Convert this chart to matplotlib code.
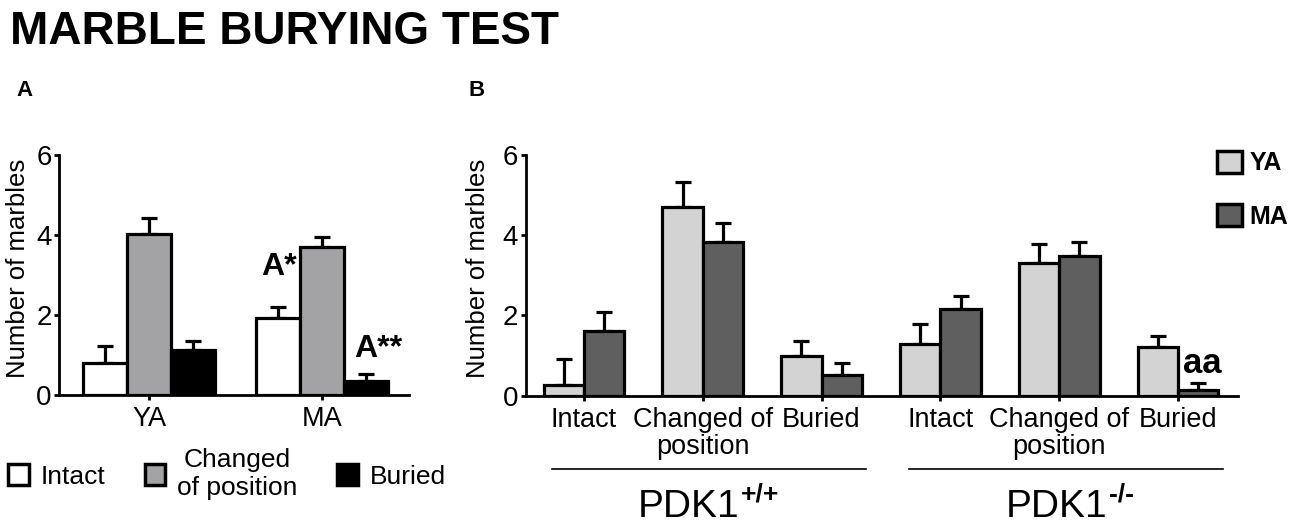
import matplotlib
matplotlib.use('Agg')
import matplotlib.pyplot as plt
import numpy as np
from matplotlib.patches import Patch
from matplotlib.transforms import blended_transform_factory

plt.rcParams['font.family'] = ['Liberation Sans', 'DejaVu Sans']
plt.rcParams['mathtext.default'] = 'regular'

# ---------------- data ----------------
# Panel A
groups_a = ['YA', 'MA']
legend_a = ['Intact', 'Changed\nof position', 'Buried']
intact_a = [0.81, 1.92]
intact_a_err = [0.41, 0.29]
changed_a = [4.03, 3.71]
changed_a_err = [0.39, 0.25]
buried_a = [1.12, 0.36]
buried_a_err = [0.23, 0.16]

# Panel B
categories_b = ['Intact', 'Changed of\nposition', 'Buried',
                'Intact', 'Changed of\nposition', 'Buried']
genotypes_b = ['+/+', '-/-']
series_b = ['YA', 'MA']
ya_b = [0.27, 4.70, 0.99, 1.28, 3.30, 1.21]
ya_b_err = [0.65, 0.62, 0.37, 0.50, 0.48, 0.29]
ma_b = [1.61, 3.84, 0.52, 2.15, 3.48, 0.14]
ma_b_err = [0.47, 0.46, 0.29, 0.34, 0.34, 0.17]

yticks = [0, 2, 4, 6]

# ---------------- style ----------------
W, H = 1300, 524
LW = 2.3
col_a = ['white', '#a3a3a5', 'black']
col_b = ['#d3d3d3', '#5f5f5f']

fig = plt.figure(figsize=(W / 100, H / 100), dpi=100)


def style_axes(ax):
    for s in ['top', 'right']:
        ax.spines[s].set_visible(False)
    for s in ['left', 'bottom']:
        ax.spines[s].set_linewidth(2.0)
    ax.tick_params(direction='out', length=3.8, width=2.0)
    ax.tick_params(axis='y', labelsize=20, pad=1.5)
    ax.tick_params(axis='x', labelsize=19.5, pad=4)
    ax.set_ylim(0, 6)
    ax.set_yticks(yticks)
    ax.set_ylabel('Number of marbles', fontsize=18.5)


# ---------------- Panel A ----------------
axA = fig.add_axes([59 / W, (H - 395) / H, 350 / W, 240 / H])
xa = np.arange(len(groups_a))
wa = 0.254
vals_a = [intact_a, changed_a, buried_a]
errs_a = [intact_a_err, changed_a_err, buried_a_err]
for i, (v, e) in enumerate(zip(vals_a, errs_a)):
    pos = xa + (i - 1) * wa
    axA.errorbar(pos, v, yerr=[np.zeros(len(v)), e], fmt='none', ecolor='black',
                 elinewidth=LW, capsize=6, capthick=LW, zorder=1)
    axA.bar(pos, v, wa, color=col_a[i], edgecolor='black', linewidth=LW, zorder=2)
axA.set_xlim(-0.52, 1.50)
axA.set_xticks(xa)
axA.set_xticklabels(groups_a)
style_axes(axA)
axA.yaxis.set_label_coords(-0.083, 0.527)

axA.text(0.751, 3.0, 'A*', ha='center', va='baseline', fontsize=23, fontweight='bold')
axA.text(1.32, 0.95, 'A**', ha='center', va='baseline', fontsize=23, fontweight='bold')

legA = fig.legend(handles=[Patch(facecolor=c, edgecolor='black', linewidth=2.5, label=l)
                           for c, l in zip(col_a, legend_a)],
                  loc='center left', bbox_to_anchor=(8 / W, 1 - 474 / H),
                  ncol=3, columnspacing=1.5, handlelength=0.78, handleheight=0.88,
                  handletextpad=0.45, fontsize=19, frameon=False,
                  borderpad=0, borderaxespad=0)
for t in legA.get_texts():
    t.set_multialignment('center')

# ---------------- Panel B ----------------
axB = fig.add_axes([525.7 / W, (H - 395.7) / H, 712.3 / W, 240.7 / H])
xb = np.arange(len(categories_b))
wb = 0.34
for i, (v, e) in enumerate([(ya_b, ya_b_err), (ma_b, ma_b_err)]):
    pos = xb + (i - 0.5) * wb
    axB.errorbar(pos, v, yerr=[np.zeros(len(v)), e], fmt='none', ecolor='black',
                 elinewidth=LW, capsize=6, capthick=LW, zorder=1)
    axB.bar(pos, v, wb, color=col_b[i], edgecolor='black', linewidth=LW, zorder=2,
            label=series_b[i])
axB.set_xlim(-0.49, 5.505)
axB.set_xticks(xb)
axB.set_xticklabels(categories_b, linespacing=1.05)
style_axes(axB)
axB.yaxis.set_label_coords(-0.050, 0.527)

axB.text(5.2, 0.57, 'aa', ha='center', va='baseline', fontsize=25, fontweight='bold')

legB = axB.legend(handles=[Patch(facecolor=c, edgecolor='black', linewidth=2.5, label=l)
                           for c, l in zip(col_b, series_b)],
                  loc='upper left', bbox_to_anchor=(1217 / W, 1 - 151 / H),
                  bbox_transform=fig.transFigure, frameon=False,
                  prop={'weight': 'bold', 'size': 18}, handlelength=1.0,
                  handleheight=0.95, handletextpad=0.3, labelspacing=1.15,
                  borderpad=0, borderaxespad=0)

# genotype group lines and labels
tr = blended_transform_factory(axB.transData, axB.transAxes)
line_spans = [(-0.27, 2.37), (2.74, 5.38)]
label_x = [0.88, 3.98]
for (x0, x1), lx, g in zip(line_spans, label_x, genotypes_b):
    axB.plot([x0, x1], [-0.3045, -0.3045], transform=tr, clip_on=False,
             color='black', lw=1.2)
    t = axB.text(lx, -0.503, 'PDK1', transform=tr, ha='center', va='baseline',
                 fontsize=28)
    axB.annotate(g, xy=(1, 0), xycoords=t, xytext=(1, 17),
                 textcoords='offset points', fontsize=19, fontweight='bold',
                 ha='left', va='baseline', annotation_clip=False)

# ---------------- titles ----------------
fig.text(9.6 / W, 1 - 44 / H, 'MARBLE BURYING TEST', fontsize=33,
         fontweight='bold', va='baseline')
fig.text(16 / W, 1 - 96 / H, 'A', fontsize=16, fontweight='bold', va='baseline')
fig.text(469 / W, 1 - 96 / H, 'B', fontsize=16, fontweight='bold', va='baseline')

fig.savefig('out.png', dpi=100)
